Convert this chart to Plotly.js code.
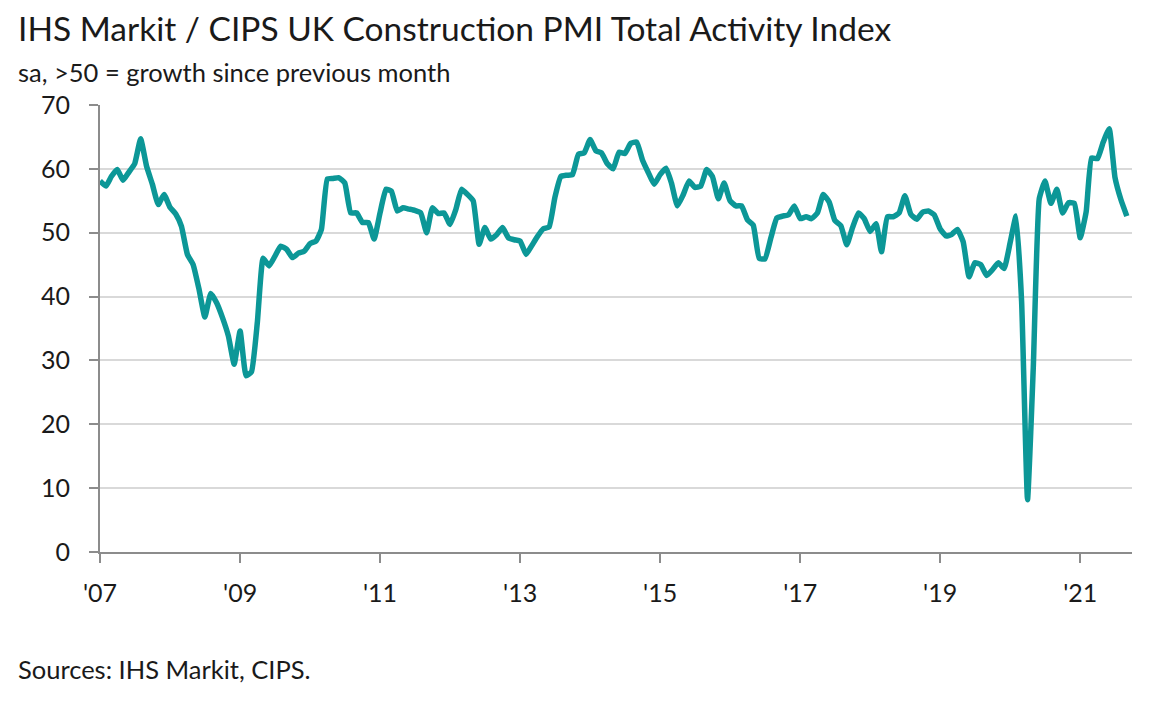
<!DOCTYPE html>
<html>
<head>
<meta charset="utf-8">
<script src="https://cdn.plot.ly/plotly-3.0.1.min.js"></script>
<style>
  html, body { margin: 0; padding: 0; background: #ffffff; }
  #chart { width: 1176px; height: 713px; }
</style>
</head>
<body>
<div id="chart"></div>
<script>
// UK Construction PMI Total Activity Index, monthly, Jan 2007 - Sep 2021
const startYear = 2007;
const pmi2007 = [58.1, 57.3, 58.8, 59.9, 58.2, 59.5, 60.8, 64.7, 60.4, 57.6, 54.4, 56.0];
const pmi2008 = [54.0, 52.9, 51.0, 46.6, 45.0, 41.1, 36.8, 40.5, 39.0, 36.7, 33.8, 29.4];
const pmi2009 = [34.6, 27.6, 28.2, 36.0, 46.0, 44.8, 46.3, 47.9, 47.4, 46.1, 46.8, 47.1];
const pmi2010 = [48.3, 48.7, 50.5, 58.4, 58.5, 58.6, 57.8, 53.1, 53.1, 51.6, 51.6, 49.0];
const pmi2011 = [53.1, 56.8, 56.5, 53.4, 53.9, 53.7, 53.5, 53.1, 50.0, 53.9, 53.0, 53.1];
const pmi2012 = [51.3, 53.7, 56.8, 56.0, 55.0, 48.2, 50.8, 49.0, 49.7, 50.8, 49.2, 48.9];
const pmi2013 = [48.7, 46.6, 47.9, 49.4, 50.6, 50.9, 55.5, 58.8, 59.0, 59.1, 62.3, 62.5];
const pmi2014 = [64.6, 62.8, 62.5, 60.8, 60.0, 62.6, 62.4, 64.0, 64.2, 61.4, 59.4, 57.6];
const pmi2015 = [59.1, 60.1, 57.8, 54.2, 55.9, 58.1, 57.1, 57.3, 59.9, 58.8, 55.3, 57.8];
const pmi2016 = [55.0, 54.2, 54.2, 52.0, 51.2, 46.0, 45.9, 49.2, 52.3, 52.6, 52.8, 54.2];
const pmi2017 = [52.2, 52.5, 52.2, 53.1, 56.0, 54.8, 51.9, 51.1, 48.1, 50.8, 53.1, 52.2];
const pmi2018 = [50.2, 51.4, 47.0, 52.5, 52.5, 53.1, 55.8, 52.9, 52.1, 53.2, 53.4, 52.8];
const pmi2019 = [50.6, 49.5, 49.7, 50.5, 48.6, 43.1, 45.3, 45.0, 43.3, 44.2, 45.3, 44.4];
const pmi2020 = [48.4, 52.6, 39.3, 8.2, 28.9, 55.3, 58.1, 54.6, 56.8, 53.1, 54.7, 54.6];
const pmi2021 = [49.2, 53.3, 61.7, 61.6, 64.2, 66.3, 58.7, 55.2, 52.6];

const tickYears = [2007, 2009, 2011, 2013, 2015, 2017, 2019, 2021];
const tickLabels = ["'07", "'09", "'11", "'13", "'15", "'17", "'19", "'21"];
const yTicks = [0, 10, 20, 30, 40, 50, 60, 70];

const yearly = [pmi2007, pmi2008, pmi2009, pmi2010, pmi2011, pmi2012, pmi2013,
                pmi2014, pmi2015, pmi2016, pmi2017, pmi2018, pmi2019, pmi2020, pmi2021];

const xs = [], ys = [];
yearly.forEach((arr, yi) => {
  arr.forEach((v, m) => {
    const yr = startYear + yi;
    xs.push(yr + '-' + String(m + 1).padStart(2, '0') + '-01');
    ys.push(v);
  });
});

const FONT = 'Lato, "Noto Sans", sans-serif';
const TXT = '#1a1a1a';

const trace = {
  x: xs, y: ys, type: 'scatter', mode: 'lines',
  line: { color: '#0c9797', width: 5.5, shape: 'spline', smoothing: 0.4 },
  hoverinfo: 'x+y'
};

const L = 100, R = 44, T = 105, B = 161;
const pw = 1176 - L - R;
const ph = 713 - T - B;
const px = (p) => (p - L) / pw;
const py = (p) => (713 - B - p) / ph;

const layout = {
  width: 1176, height: 713,
  margin: { l: L, r: R, t: T, b: B, pad: 0 },
  paper_bgcolor: '#ffffff', plot_bgcolor: '#ffffff',
  showlegend: false,
  font: { family: FONT, color: TXT, size: 25 },
  xaxis: {
    type: 'date',
    range: ['2007-01-01', '2021-09-28'],
    tickvals: tickYears.map(y => y + '-01-01'),
    ticktext: tickLabels,
    ticks: 'outside', ticklen: 9, tickwidth: 2, tickcolor: '#8c8c8c',
    showline: true, linecolor: '#8c8c8c', linewidth: 2,
    showgrid: false, zeroline: false,
    tickfont: { family: FONT, size: 25, color: TXT },
    ticklabelstandoff: 9
  },
  yaxis: {
    range: [0, 70],
    tickvals: yTicks,
    ticks: 'outside', ticklen: 9, tickwidth: 2, tickcolor: '#8c8c8c',
    showline: true, linecolor: '#8c8c8c', linewidth: 2,
    showgrid: true, gridcolor: '#d9d9d9', gridwidth: 2,
    zeroline: false,
    tickfont: { family: FONT, size: 25, color: TXT },
    ticklabelstandoff: 14
  },
  annotations: [
    { text: 'IHS Markit / CIPS UK Construction PMI Total Activity Index',
      xref: 'paper', yref: 'paper', x: px(16), y: py(28),
      xanchor: 'left', yanchor: 'middle', showarrow: false,
      font: { family: FONT, size: 33.5, color: TXT } },
    { text: 'sa, >50 = growth since previous month',
      xref: 'paper', yref: 'paper', x: px(16), y: py(72),
      xanchor: 'left', yanchor: 'middle', showarrow: false,
      font: { family: FONT, size: 25.5, color: TXT } },
    { text: 'Sources: IHS Markit, CIPS.',
      xref: 'paper', yref: 'paper', x: px(16), y: py(669),
      xanchor: 'left', yanchor: 'middle', showarrow: false,
      font: { family: FONT, size: 25.5, color: TXT } }
  ]
};

Plotly.newPlot('chart', [trace], layout, { staticPlot: true, displayModeBar: false });
</script>
</body>
</html>
